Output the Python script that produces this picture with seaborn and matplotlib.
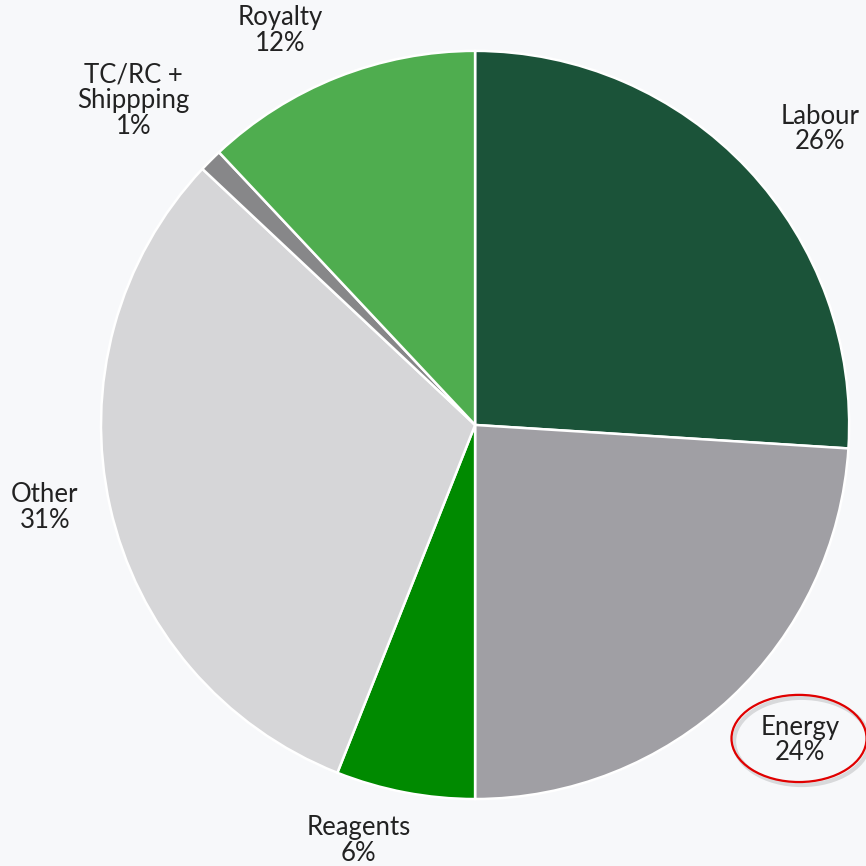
import numpy as np
import matplotlib
matplotlib.use('Agg')
import matplotlib.pyplot as plt
import seaborn as sns
from matplotlib.patches import Ellipse

# Cost breakdown data
categories = ['Labour', 'Energy', 'Reagents', 'Other', 'TC/RC +\nShippping', 'Royalty']
shares = [26, 24, 6, 31, 1, 12]
colors = ['#1b5339', '#a09fa4', '#008a00', '#d6d6d8', '#878789', '#4fad4f']

# label placement: radial distance and angular nudge (deg) from slice middle
label_dist = [1.216, 1.210, 1.153, 1.171, 1.260, 1.176]
label_nudge = [-2.6, 2.7, -4.9, -1.7, 1.5, 4.7]

sns.set_style('white')
plt.rcParams['font.family'] = ['Lato', 'DejaVu Sans']

bg = '#f7f8fa'
fig = plt.figure(figsize=(8.66, 8.66), dpi=100, facecolor=bg)
ax = fig.add_axes([0, 0, 1, 1])
ax.set_facecolor(bg)

wedges, _ = ax.pie(
    shares,
    colors=colors,
    startangle=90,
    counterclock=False,
    radius=1,
    wedgeprops=dict(edgecolor='white', linewidth=1.8),
)

label_xy = []
for w, name, val, d, nd in zip(wedges, categories, shares, label_dist, label_nudge):
    mid = np.deg2rad((w.theta1 + w.theta2) / 2 + nd)
    x, y = d * np.cos(mid), d * np.sin(mid)
    label_xy.append((x, y))
    ax.text(x, y, f'{name}\n{val}%', ha='center', va='center',
            fontsize=18.5, color='#222222', linespacing=1.04)

# Red highlight ring around the Energy label (with a soft drop shadow)
ex, ey = label_xy[1]
ax.add_patch(Ellipse((ex + 0.004, ey - 0.004), 0.361, 0.233,
                     fill=False, edgecolor='black', alpha=0.12, linewidth=3))
ax.add_patch(Ellipse((ex - 0.003, ey + 0.004), 0.361, 0.233, fill=False,
                     edgecolor='#e00000', linewidth=1.6))

ax.set_xlim(-1.270, 1.045)
ax.set_ylim(-1.179, 1.136)
ax.axis('off')

fig.savefig('out.png', dpi=100, facecolor=bg)
